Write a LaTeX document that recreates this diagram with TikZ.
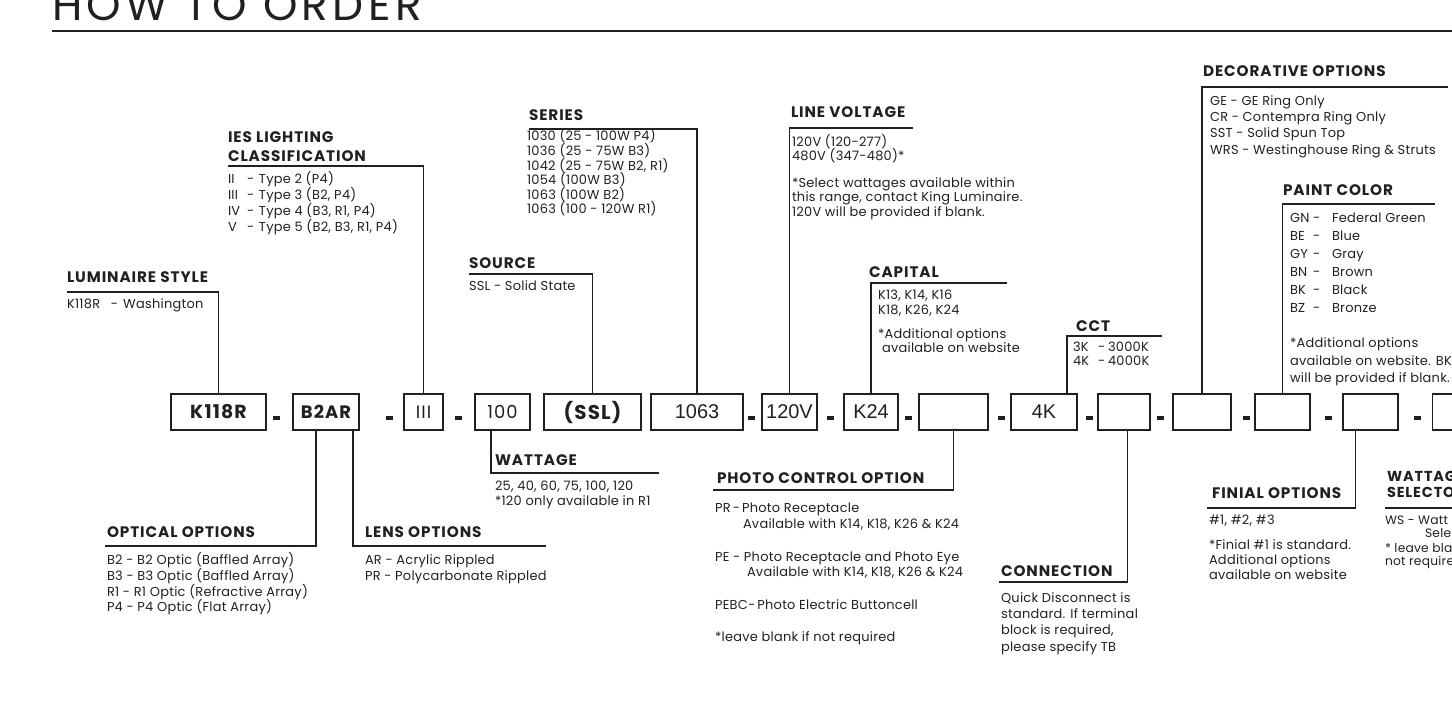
\documentclass[tikz,border=0pt]{standalone}
\usepackage{fontspec}
\setmainfont{Poppins}
\newfontfamily\arialf{Liberation Sans}
\newfontfamily\headf{Poppins}[LetterSpace=6]
\newfontfamily\bodyf{Poppins}[LetterSpace=2]
\newfontfamily\titlef{Poppins}[LetterSpace=10]
\newfontfamily\boxf{Poppins}[Numbers=Monospaced, LetterSpace=6]
\definecolor{ink}{HTML}{231F20}
\tikzset{
  every node/.style={inner sep=0pt, outer sep=0pt, text=ink},
  titletext/.style={font=\titlef\fontsize{44}{44}\selectfont, anchor=base west},
  head/.style={font=\headf\fontsize{15.3}{16}\selectfont\bfseries, anchor=base west},
  body/.style={font=\bodyf\fontsize{13}{14}\selectfont, anchor=base west},
  codebox/.style={draw=ink, line width=1.3bp, minimum height=36bp, font=\boxf\fontsize{18}{18}\selectfont},
  arialbox/.style={codebox, font=\arialf\fontsize{20}{20}\selectfont},
  lead/.style={draw=ink, line width=1.3bp},
  rule/.style={draw=ink, line width=2.4bp},
  sepbar/.style={fill=ink, draw=none, minimum width=7bp, minimum height=4bp}
}
\begin{document}
\begin{tikzpicture}[x=1bp,y=-1bp]
\useasboundingbox (0,0) rectangle (1452,724);
\clip (0,0) rectangle (1452,724);

% title and rule
\node[titletext] (title) at (52,21) {HOW TO ORDER};
\coordinate (ruleL) at (52,31);
\coordinate (ruleR) at (1452,31);
\draw[rule] (ruleL) -- (ruleR);

% code boxes
\node[codebox, minimum width=95bp, font=\boxf\fontsize{19}{19}\selectfont\bfseries] (k118r) at (218.5,412) {K118R};
\node[codebox, minimum width=66bp, font=\boxf\fontsize{18}{18}\selectfont\bfseries] (b2ar) at (326,412) {B2AR};
\node[codebox, minimum width=39bp] (iii) at (423.5,412) {III};
\node[codebox, minimum width=55bp] (w100) at (502.5,412) {100};
\node[codebox, minimum width=97bp, font=\boxf\fontsize{20}{20}\selectfont\bfseries] (ssl) at (592.5,412) {(SSL)};
\node[arialbox, minimum width=92bp] (s1063) at (697,412) {1063};
\node[arialbox, minimum width=55bp] (v120) at (789.5,412) {120V};
\node[arialbox, minimum width=54bp] (k24) at (871,412) {K24};
\node[codebox, minimum width=69bp] (e1) at (953.5,412) {};
\node[arialbox, minimum width=66bp] (c4k) at (1044,412) {4K};
\node[codebox, minimum width=52bp] (e2) at (1124,412) {};
\node[codebox, minimum width=58bp] (e3) at (1202,412) {};
\node[codebox, minimum width=55bp] (e4) at (1282.5,412) {};
\node[codebox, minimum width=55bp] (e5) at (1370.5,412) {};
\node[codebox, minimum width=57bp] (e6) at (1461,412) {};

% separators
\foreach \xx [count=\i] in {276.5,389.5,458.5,751,830.5,908.5,1001,1089.5,1160.5,1246,1328,1417.5}
  \node[sepbar] (dash\i) at (\xx,418) {};

% connectors
\coordinate (lumL) at (67,292);
\draw[lead] (lumL) -| (k118r.north);
\coordinate (iesL) at (228,166);
\draw[lead] (iesL) -| (iii.north);
\coordinate (serL) at (529,129);
\draw[lead] (serL) -| (s1063.north);
\coordinate (srcL) at (469,274);
\draw[lead] (srcL) -| (ssl.north);
\coordinate (lvR) at (913,128);
\draw[lead] (lvR) -| (v120.north);
\coordinate (capR) at (1007,283);
\draw[lead] (capR) -| (k24.north);
\coordinate (cctR) at (1162,336);
\draw[lead] (cctR) -| ([xshift=-10bp]c4k.north east);
\coordinate (decR) at (1448,87);
\draw[lead] (decR) -| (e3.north);
\coordinate (paiR) at (1435,204);
\draw[lead] (paiR) -| (e4.north);
\coordinate (watR) at (659,473);
\draw[lead] ([xshift=-11.5bp]w100.south) |- (watR);
\coordinate (optL) at (105,546);
\draw[lead] ([xshift=-10bp]b2ar.south) |- (optL);
\coordinate (lenR) at (546,546);
\draw[lead] ([xshift=27bp]b2ar.south) |- (lenR);
\coordinate (phoL) at (713,490);
\draw[lead] (e1.south) |- (phoL);
\coordinate (conL) at (999,582);
\draw[lead] ([xshift=3.5bp]e2.south) |- (conL);
\coordinate (finL) at (1207,508);
\draw[lead] ([xshift=-15bp]e5.south) |- (finL);
\coordinate (wsL) at (1385,508);
\coordinate (wsR) at (1452,508);
\draw[lead] (wsL) -- (wsR);

% LUMINAIRE STYLE
\node[head] (lum-h) at (67,282) {LUMINAIRE STYLE};
\node[body] (lum-1) at (67,308) {\makebox[44bp][l]{K118R}-\hspace{5bp}Washington};

% IES
\node[head] (ies-h1) at (228,143) {IES LIGHTING};
\node[head] (ies-h2) at (228,161) {CLASSIFICATION};
\node[body] (ies-1) at (228,183) {\makebox[19bp][l]{II}\makebox[12bp][l]{-}Type 2 (P4)};
\node[body] (ies-2) at (228,199) {\makebox[19bp][l]{III}\makebox[12bp][l]{-}Type 3 (B2, P4)};
\node[body] (ies-3) at (228,215) {\makebox[19bp][l]{IV}\makebox[12bp][l]{-}Type 4 (B3, R1, P4)};
\node[body] (ies-4) at (228,231) {\makebox[19bp][l]{V}\makebox[12bp][l]{-}Type 5 (B2, B3, R1, P4)};

% SERIES
\node[head] (ser-h) at (529,121) {SERIES};
\foreach \t [count=\i] in {{1030 (25 - 100W P4)},{1036 (25 - 75W B3)},{1042 (25 - 75W B2, R1)},{1054 (100W B3)},{1063 (100W B2)},{1063 (100 - 120W R1)}}
  \node[body] (ser-\i) at (527,{141+14.5*(\i-1)}) {\t};

% SOURCE
\node[head] (src-h) at (469,268) {SOURCE};
\node[body] (src-1) at (469,290) {SSL - Solid State};

% LINE VOLTAGE
\node[head] (lv-h) at (791,118) {LINE VOLTAGE};
\node[body] (lv-1) at (792,146) {120V (120-277)};
\node[body] (lv-2) at (792,160) {480V (347-480)*};
\node[body] (lv-3) at (792,187) {*Select wattages available within};
\node[body] (lv-4) at (792,201) {this range, contact King Luminaire.};
\node[body] (lv-5) at (792,216) {120V will be provided if blank.};

% CAPITAL
\node[head] (cap-h) at (869,277) {CAPITAL};
\node[body] (cap-1) at (878,299) {K13, K14, K16};
\node[body] (cap-2) at (878,314) {K18, K26, K24};
\node[body] (cap-3) at (878,338) {*Additional options};
\node[body] (cap-4) at (882,352) {available on website};

% CCT
\node[head] (cct-h) at (1076,331) {CCT};
\node[body] (cct-1) at (1073,351) {\makebox[25bp][l]{3K}\makebox[10bp][l]{-}3000K};
\node[body] (cct-2) at (1073,365) {\makebox[25bp][l]{4K}\makebox[10bp][l]{-}4000K};

% DECORATIVE OPTIONS
\node[head] (dec-h) at (1203,77) {DECORATIVE OPTIONS};
\node[body] (dec-1) at (1210,106) {GE - GE Ring Only};
\node[body] (dec-2) at (1210,122) {CR - Contempra Ring Only};
\node[body] (dec-3) at (1210,138) {SST - Solid Spun Top};
\node[body] (dec-4) at (1210,154) {WRS - Westinghouse Ring \& Struts};

% PAINT COLOR
\node[head] (pai-h) at (1283,195) {PAINT COLOR};
\foreach \c/\n [count=\i] in {GN/Federal Green,BE/Blue,GY/Gray,BN/Brown,BK/Black,BZ/Bronze}
  \node[body] (pai-\i) at (1290,{222+18*(\i-1)}) {\makebox[23bp][l]{\c}\makebox[19bp][l]{-}\n};
\node[body] (pai-7) at (1290,347) {*Additional options};
\node[body] (pai-8) at (1290,365) {available on website. BK};
\node[body] (pai-9) at (1290,382) {will be provided if blank.};

% WATTAGE
\node[head] (wat-h) at (495,465) {WATTAGE};
\node[body] (wat-1) at (495,490) {25, 40, 60, 75, 100, 120};
\node[body] (wat-2) at (495,505) {*120 only available in R1};

% OPTICAL OPTIONS
\node[head] (opt-h) at (107,537) {OPTICAL OPTIONS};
\node[body] (opt-1) at (107,564) {B2 - B2 Optic (Baffled Array)};
\node[body] (opt-2) at (107,580) {B3 - B3 Optic (Baffled Array)};
\node[body] (opt-3) at (107,596) {R1 - R1 Optic (Refractive Array)};
\node[body] (opt-4) at (107,611) {P4 - P4 Optic (Flat Array)};

% LENS OPTIONS
\node[head] (len-h) at (365,537) {LENS OPTIONS};
\node[body] (len-1) at (365,564) {AR - Acrylic Rippled};
\node[body] (len-2) at (365,580) {PR - Polycarbonate Rippled};

% PHOTO CONTROL OPTION
\node[head] (pho-h) at (717,483) {PHOTO CONTROL OPTION};
\node[body] (pho-1) at (715,512) {PR\,-\,Photo Receptacle};
\node[body] (pho-2) at (743,528) {Available with K14, K18, K26 \& K24};
\node[body] (pho-3) at (715,561) {PE - Photo Receptacle and Photo Eye};
\node[body] (pho-4) at (747,576) {Available with K14, K18, K26 \& K24};
\node[body] (pho-5) at (715,609) {PEBC-\,Photo Electric Buttoncell};
\node[body] (pho-6) at (715,641) {*leave blank if not required};

% CONNECTION
\node[head] (con-h) at (1001,576) {CONNECTION};
\node[body] (con-1) at (1001,602) {Quick Disconnect is};
\node[body] (con-2) at (1001,618) {standard. If terminal};
\node[body] (con-3) at (1001,634) {block is required,};
\node[body] (con-4) at (1001,651) {please specify TB};

% FINIAL OPTIONS
\node[head] (fin-h) at (1212,498) {FINIAL OPTIONS};
\node[body] (fin-1) at (1209,524) {\#1, \#2, \#3};
\node[body] (fin-2) at (1209,549) {*Finial \#1 is standard.};
\node[body] (fin-3) at (1209,564) {Additional options};
\node[body] (fin-4) at (1209,579) {available on website};

% WATTAGE SELECTOR (cut at the right edge)
\node[head, font=\headf\fontsize{14.5}{15}\selectfont\bfseries] (ws-h1) at (1387,481) {WATTAG};
\node[head, font=\headf\fontsize{14.5}{15}\selectfont\bfseries] (ws-h2) at (1387,497) {SELECTO};
\node[body, font=\bodyf\fontsize{12.3}{13}\selectfont] (ws-1) at (1385,524) {WS - Watt};
\node[body, font=\bodyf\fontsize{12.3}{13}\selectfont] (ws-2) at (1425,537) {Sele};
\node[body, font=\bodyf\fontsize{12.3}{13}\selectfont] (ws-3) at (1385,552) {* leave bla};
\node[body, font=\bodyf\fontsize{12.3}{13}\selectfont] (ws-4) at (1385,565) {not require};
\end{tikzpicture}
\end{document}
